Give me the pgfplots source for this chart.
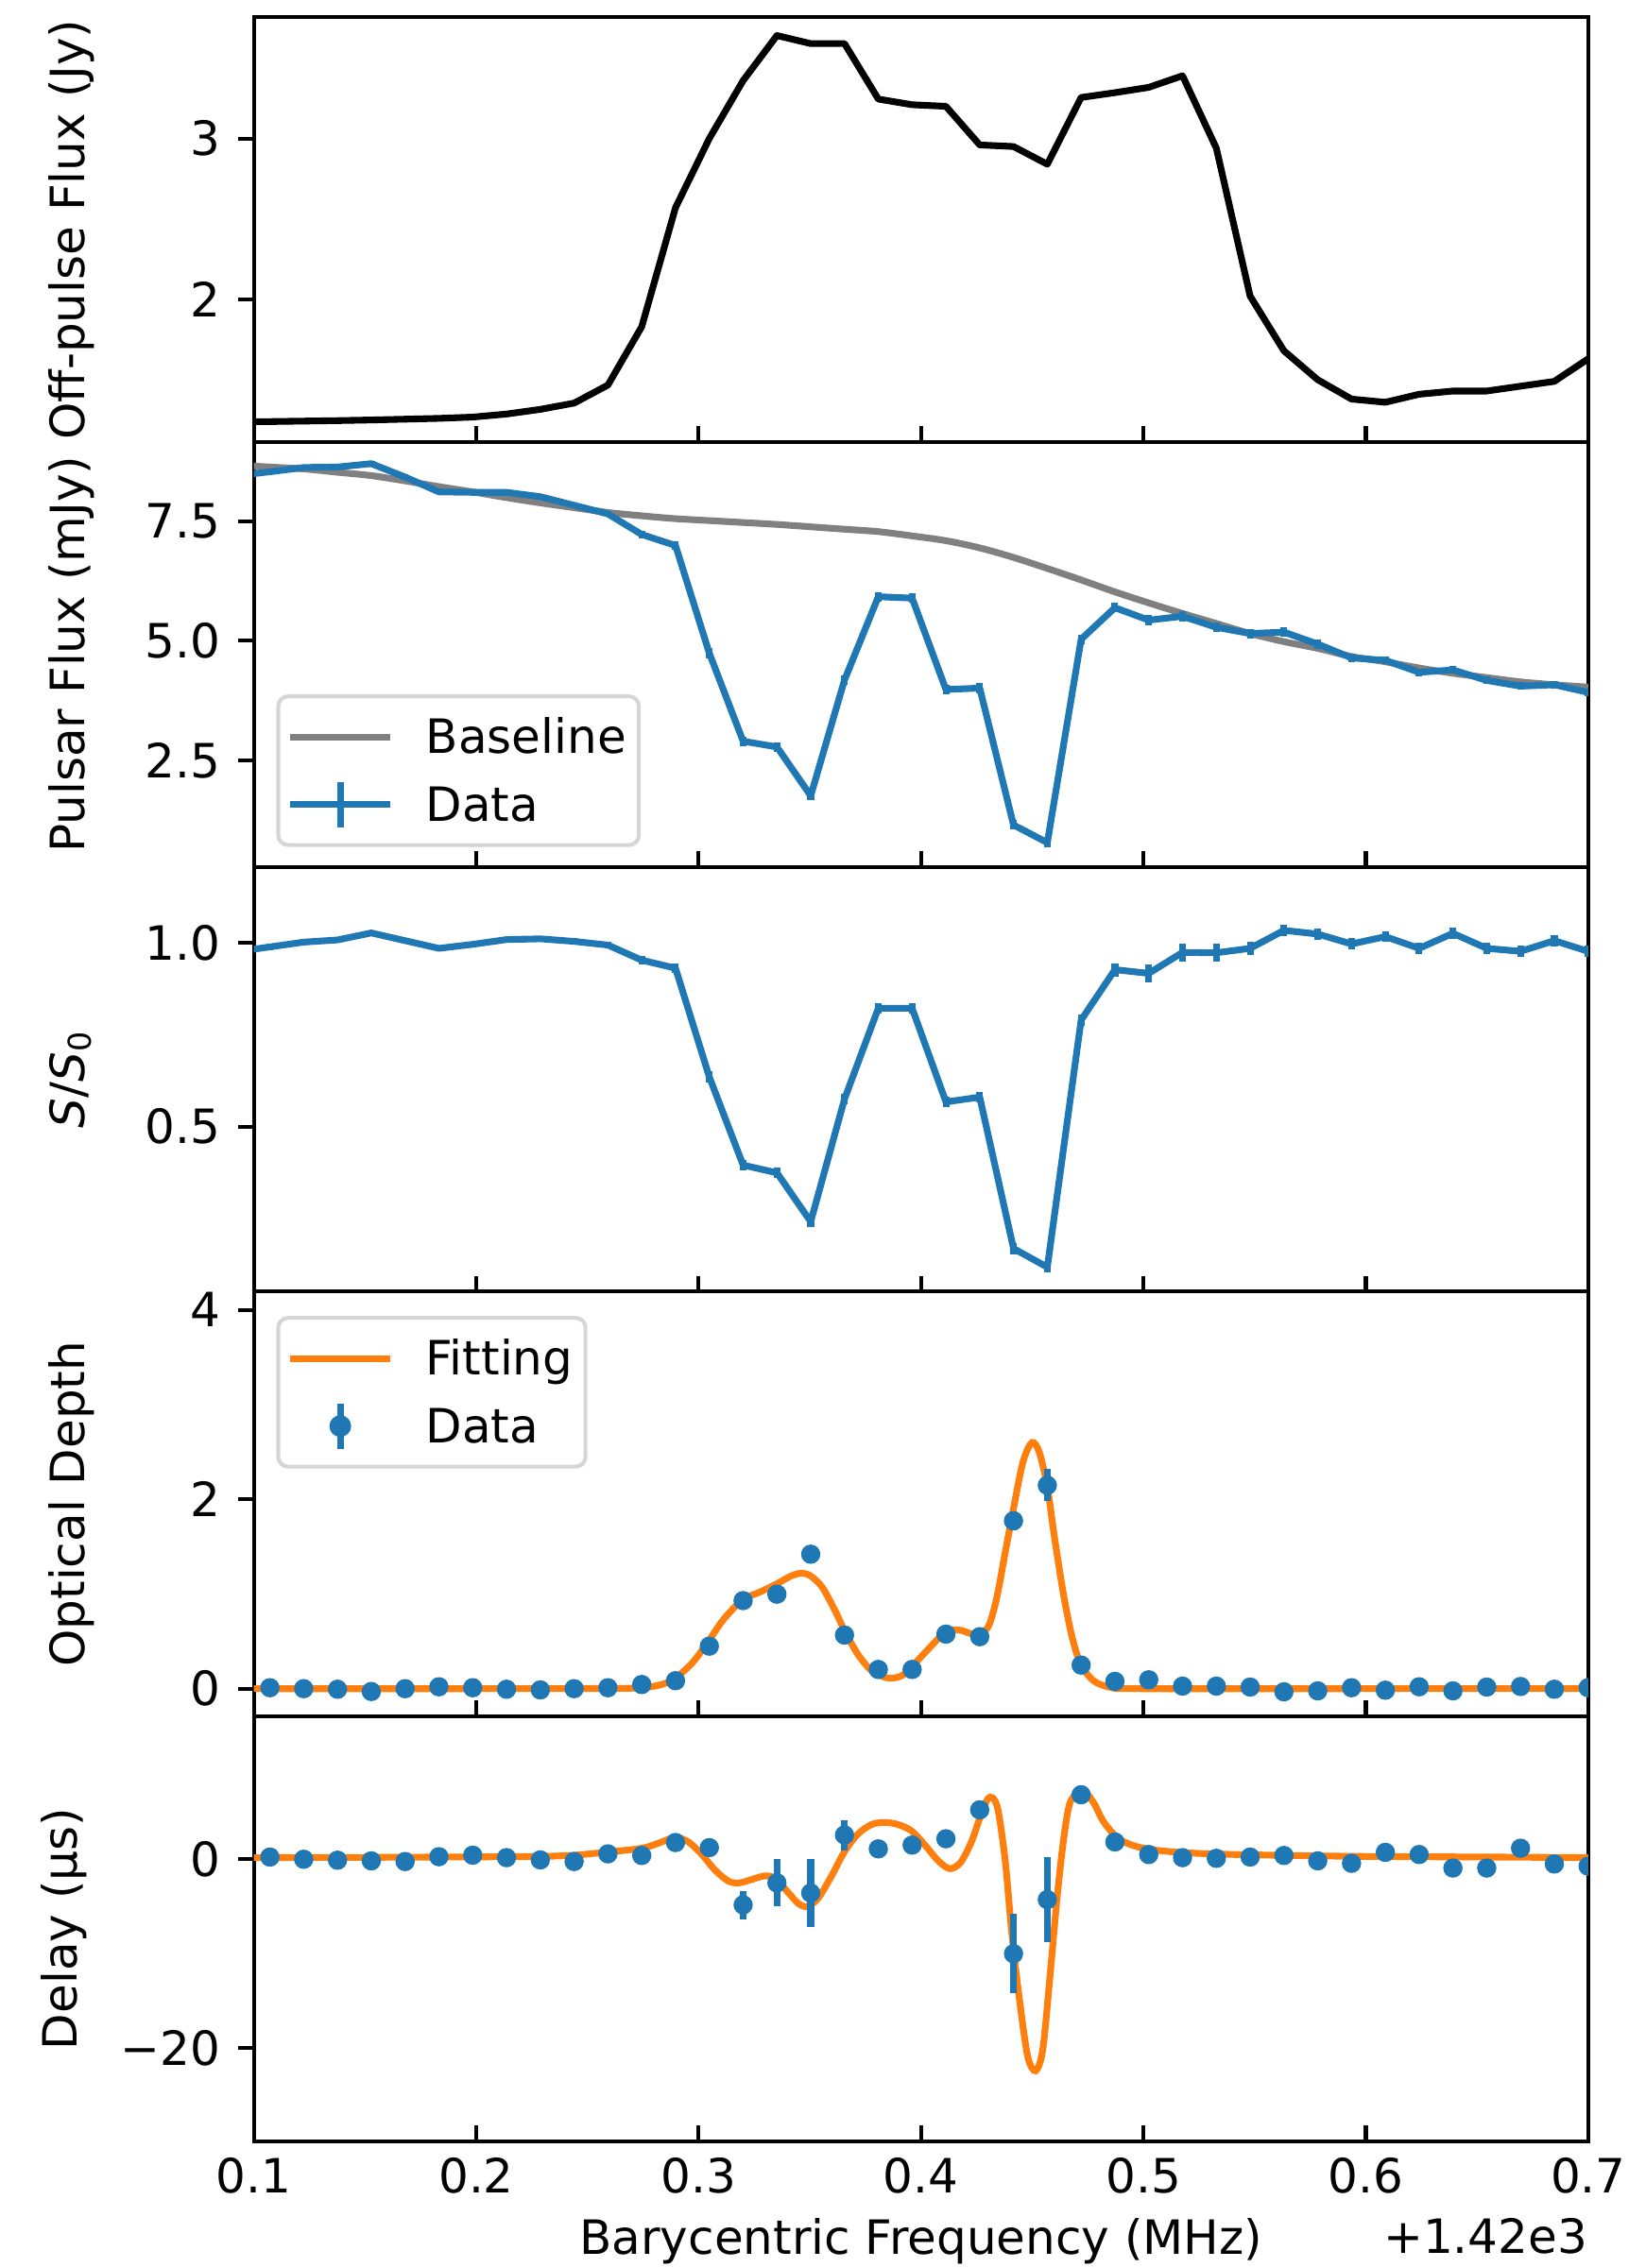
\documentclass[border=0pt]{standalone}
\usepackage{fontspec}
\setmainfont{DejaVu Sans}
\usepackage{pgfplots}
\usepackage{pgfplotstable}
\pgfplotsset{compat=1.18}
\definecolor{mblue}{RGB}{31,119,180}
\definecolor{morange}{RGB}{255,127,14}
\definecolor{mgray}{RGB}{128,128,128}
\definecolor{legedge}{RGB}{214,214,214}
\newcommand{\fs}{\fontsize{12}{14.4}\selectfont}

\pgfplotstableread{
x off pf pfe bl ss sse
0.0920 1.238 8.45 0.05 8.67 0.976 0.008
0.1072 1.240 8.53 0.05 8.63 0.989 0.008
0.1224 1.243 8.62 0.05 8.59 1.002 0.008
0.1376 1.246 8.63 0.05 8.52 1.008 0.008
0.1528 1.250 8.70 0.05 8.45 1.027 0.008
0.1680 1.255 8.42 0.05 8.34 1.006 0.008
0.1832 1.260 8.11 0.05 8.22 0.985 0.008
0.1984 1.268 8.10 0.05 8.11 0.996 0.008
0.2136 1.287 8.10 0.05 7.99 1.009 0.008
0.2288 1.316 8.01 0.05 7.88 1.011 0.008
0.2440 1.355 7.83 0.05 7.78 1.004 0.008
0.2592 1.467 7.65 0.06 7.68 0.994 0.010
0.2744 1.830 7.22 0.08 7.61 0.953 0.012
0.2896 2.570 6.99 0.08 7.55 0.931 0.012
0.3048 3.000 4.74 0.10 7.51 0.635 0.015
0.3200 3.360 2.90 0.10 7.47 0.395 0.015
0.3352 3.640 2.78 0.10 7.43 0.374 0.015
0.3504 3.590 1.76 0.10 7.38 0.241 0.015
0.3656 3.590 4.18 0.10 7.33 0.575 0.015
0.3808 3.245 5.92 0.10 7.28 0.822 0.015
0.3960 3.210 5.89 0.10 7.19 0.822 0.015
0.4112 3.200 3.98 0.10 7.09 0.567 0.015
0.4264 2.960 4.01 0.10 6.94 0.580 0.015
0.4416 2.950 1.15 0.10 6.74 0.168 0.015
0.4568 2.840 0.78 0.10 6.51 0.117 0.015
0.4720 3.255 5.03 0.10 6.27 0.790 0.015
0.4872 3.285 5.69 0.10 6.02 0.927 0.018
0.5024 3.318 5.43 0.10 5.79 0.917 0.025
0.5176 3.390 5.51 0.10 5.57 0.974 0.025
0.5328 2.940 5.28 0.10 5.36 0.973 0.025
0.5480 2.020 5.15 0.10 5.15 0.985 0.018
0.5632 1.680 5.18 0.10 4.98 1.034 0.015
0.5784 1.500 4.93 0.10 4.84 1.024 0.015
0.5936 1.380 4.64 0.08 4.67 0.997 0.015
0.6088 1.360 4.59 0.08 4.56 1.017 0.015
0.6240 1.410 4.34 0.08 4.43 0.985 0.015
0.6392 1.430 4.39 0.08 4.32 1.026 0.015
0.6544 1.430 4.17 0.08 4.23 0.985 0.015
0.6696 1.460 4.05 0.08 4.14 0.977 0.015
0.6848 1.490 4.08 0.08 4.08 1.006 0.015
0.7000 1.630 3.92 0.08 4.03 0.977 0.015
}\tabA

\pgfplotstableread{
x tau taue del dele
0.1072 0.010 0.04 0.23 0.5
0.1224 0.000 0.04 0.00 0.5
0.1376 -0.006 0.04 -0.10 0.5
0.1528 -0.030 0.04 -0.17 0.5
0.1680 0.000 0.04 -0.24 0.5
0.1832 0.020 0.04 0.27 0.5
0.1984 0.010 0.04 0.43 0.5
0.2136 -0.006 0.04 0.17 0.5
0.2288 -0.013 0.04 -0.07 0.5
0.2440 0.000 0.04 -0.24 0.5
0.2592 0.010 0.04 0.57 0.5
0.2744 0.044 0.04 0.40 0.5
0.2896 0.084 0.04 1.77 0.6
0.3048 0.449 0.05 1.23 0.8
0.3200 0.930 0.05 -4.83 1.5
0.3352 0.998 0.05 -2.50 2.5
0.3504 1.420 0.05 -3.57 3.6
0.3656 0.566 0.05 2.57 1.6
0.3808 0.203 0.05 1.10 0.8
0.3960 0.203 0.05 1.50 0.8
0.4112 0.576 0.05 2.17 0.8
0.4264 0.549 0.05 5.23 0.8
0.4416 1.773 0.10 -10.00 4.2
0.4568 2.148 0.17 -4.27 4.5
0.4720 0.249 0.05 6.83 0.8
0.4872 0.077 0.04 1.83 0.6
0.5024 0.094 0.04 0.50 0.5
0.5176 0.027 0.04 0.17 0.5
0.5328 0.027 0.04 0.10 0.5
0.5480 0.017 0.04 0.23 0.5
0.5632 -0.033 0.04 0.40 0.5
0.5784 -0.023 0.04 -0.17 0.5
0.5936 0.010 0.04 -0.43 0.5
0.6088 -0.016 0.04 0.73 0.5
0.6240 0.020 0.04 0.50 0.5
0.6392 -0.023 0.04 -0.93 0.5
0.6544 0.017 0.04 -0.93 0.5
0.6696 0.023 0.04 1.17 0.5
0.6848 -0.006 0.04 -0.50 0.5
0.7000 0.010 0.04 -0.73 0.5
}\tabB

\pgfplotsset{
  panel/.style={
    scale only axis, width=338.9pt, height=107.93pt, anchor=south west,
    xmin=0.1, xmax=0.7, xtick={0.1,0.2,0.3,0.4,0.5,0.6,0.7}, xticklabels={},
    tick pos=left, xtick align=inside, ytick align=outside,
    major tick length=4pt, tick style={black, line width=1pt},
    axis line style={line width=1pt},
    tick label style={font=\fs}, label style={font=\fs},
    yticklabel style={xshift=-1pt}, xticklabel style={yshift=-0.7pt},
    clip marker paths=true,
    ylabel style={at={(axis description cs:-0.1271,0.5)}, anchor=base},
    legend cell align=left,
    legend style={draw=legedge, line width=1pt, rounded corners=2.5pt, fill=white,
      font=\fs, inner xsep=2.2pt, inner ysep=2.5pt, row sep=1.6pt,
      nodes={inner xsep=1pt, inner ysep=2pt, text height=10pt, text depth=1.6pt},
      /tikz/every odd column/.append style={column sep=7.2pt}, anchor=north west},
  },
  eb/.style={/pgfplots/error bars/y dir=both, /pgfplots/error bars/y explicit,
    /pgfplots/error bars/error mark=none,
    /pgfplots/error bars/error bar style={line width=1.7pt, mblue}},
}

\begin{document}
\begin{tikzpicture}
\path[use as bounding box] (0,0) rectangle (418.08pt,576.24pt);

% Panel 1
\begin{axis}[panel, at={(64.49pt,463.93pt)}, ymin=1.113, ymax=3.754,
  ytick={2,3}, yticklabels={2,3}, ylabel={Off-pulse Flux (Jy)}]
\addplot[black, line width=1.7pt, line join=round] table[x=x,y=off]{\tabA};
\end{axis}

% Panel 2
\begin{axis}[panel, at={(64.49pt,356.0pt)}, ymin=0.275, ymax=9.152,
  ytick={2.5,5,7.5}, yticklabels={2.5,5.0,7.5}, ylabel={Pulsar Flux (mJy)},
  legend style={at={(axis description cs:0.0168,0.406)}}]
\addplot[mgray, line width=1.7pt, smooth,
  legend image code/.code={\draw[mgray, line width=1.7pt] (0pt,0pt) -- (25.4pt,0pt);}]
  table[x=x,y=bl]{\tabA};
\addlegendentry{Baseline}
\addplot[mblue, line width=1.7pt, line join=round,
  legend image code/.code={\draw[mblue, line width=1.7pt] (0pt,0pt) -- (25.4pt,0pt);
    \draw[mblue, line width=1.7pt] (12.7pt,-5.8pt) -- (12.7pt,5.8pt);}, eb]
  table[x=x,y=pf,y error=pfe]{\tabA};
\addlegendentry{Data}
\end{axis}

% Panel 3
\begin{axis}[panel, at={(64.49pt,248.07pt)}, ymin=0.0506, ymax=1.207,
  ytick={0.5,1.0}, yticklabels={0.5,1.0}, ylabel={\textit{S}/\textit{S}\textsubscript{0}}]
\addplot[mblue, line width=1.7pt, line join=round, eb] table[x=x,y=ss,y error=sse]{\tabA};
\end{axis}

% Panel 4
\begin{axis}[panel, at={(64.49pt,140.14pt)}, ymin=-0.293, ymax=4.193,
  ytick={0,2,4}, yticklabels={0,2,4}, ylabel={Optical Depth},
  legend style={at={(axis description cs:0.0168,0.9428)}}]
\addplot[morange, line width=1.7pt, smooth,
  legend image code/.code={\draw[morange, line width=1.7pt] (0pt,0pt) -- (25.4pt,0pt);}]
  coordinates {(0.1,0) (0.2,0) (0.26,0.003) (0.27456,0.01) (0.28339,0.044) (0.28941,0.11)
  (0.29743,0.28) (0.30465,0.51) (0.31148,0.74) (0.31990,0.94) (0.32753,1.02) (0.33515,1.107)
  (0.34157,1.19) (0.34639,1.22) (0.35040,1.19) (0.35562,1.07) (0.36164,0.81) (0.36565,0.61)
  (0.37167,0.36) (0.37769,0.19) (0.38250,0.13) (0.38652,0.11) (0.39173,0.142) (0.39775,0.28)
  (0.40578,0.48) (0.41140,0.61) (0.41782,0.617) (0.42384,0.576) (0.42986,0.64) (0.43387,0.94)
  (0.43788,1.44) (0.44190,1.94) (0.44591,2.4) (0.44992,2.6) (0.45313,2.5) (0.45674,2.14)
  (0.45995,1.61) (0.46396,1.01) (0.46798,0.54) (0.47199,0.25) (0.47801,0.077) (0.48604,0.01)
  (0.49807,0) (0.6,0) (0.7,0)};
\addlegendentry{Fitting}
\addplot[mblue, only marks, mark=*, mark size=2.25pt, mark options={draw=none, fill=mblue},
  legend image code/.code={\path[draw=none, fill=none] (0pt,0pt) rectangle (25.4pt,0.1pt);
    \draw[mblue, line width=1.7pt] (12.7pt,-5.8pt) -- (12.7pt,5.8pt);
    \fill[mblue] (12.7pt,0pt) circle (2.25pt);}, eb]
  table[x=x,y=tau,y error=taue]{\tabB};
\addlegendentry{Data}
\end{axis}

% Panel 5
\begin{axis}[panel, name=p5, at={(64.49pt,32.21pt)}, ymin=-29.85, ymax=15.12,
  ytick={-20,0}, yticklabels={−20,0}, ylabel={Delay (µs)},
  ylabel style={at={(axis description cs:-0.1324,0.5)}},
  xticklabels={0.1,0.2,0.3,0.4,0.5,0.6,0.7},
  xlabel={Barycentric Frequency (MHz)},
  xlabel style={at={(axis description cs:0.5,0)}, anchor=base, yshift=-28.61pt}]
\addplot[morange, line width=1.7pt, smooth]
  coordinates {(0.1,0.17) (0.15,0.2) (0.2,0.25) (0.22921,0.3) (0.24406,0.43) (0.25931,0.77)
  (0.27456,1.17) (0.28339,1.83) (0.28941,2.33) (0.29543,1.83) (0.30144,0.5) (0.30746,-1.17)
  (0.31348,-2.33) (0.31830,-2.5) (0.32352,-2.17) (0.32953,-1.77) (0.33435,-2.0) (0.33957,-3.33)
  (0.34478,-4.67) (0.34880,-5.0) (0.35361,-4.17) (0.35963,-1.83) (0.36565,0.83) (0.37167,2.67)
  (0.37769,3.67) (0.38371,3.9) (0.38973,3.67) (0.39575,3.0) (0.40177,1.5) (0.40778,-0.17)
  (0.41300,-1.0) (0.41782,-0.33) (0.42263,1.83) (0.42665,4.5) (0.42986,6.33) (0.43226,6.5)
  (0.43467,5.17) (0.43788,-0.17) (0.44069,-7.5) (0.44390,-14.17) (0.44791,-20.8) (0.45152,-22.4)
  (0.45474,-20.17) (0.45795,-12.5) (0.46116,-4.17) (0.46397,1.83) (0.46677,5.83) (0.47079,7.17)
  (0.47400,7.1) (0.47801,5.83) (0.48202,4.0) (0.48804,2.33) (0.49406,1.57) (0.50209,1.07)
  (0.51412,0.77) (0.53018,0.57) (0.55827,0.43) (0.59840,0.3) (0.65859,0.23) (0.7,0.17)};
\addplot[mblue, only marks, mark=*, mark size=2.25pt, mark options={draw=none, fill=mblue}, eb]
  table[x=x,y=del,y error=dele]{\tabB};
\end{axis}
\node[anchor=base east, inner sep=0pt, font=\fs] at ([yshift=-28.61pt]p5.south east) {+1.42e3};
\end{tikzpicture}
\end{document}
